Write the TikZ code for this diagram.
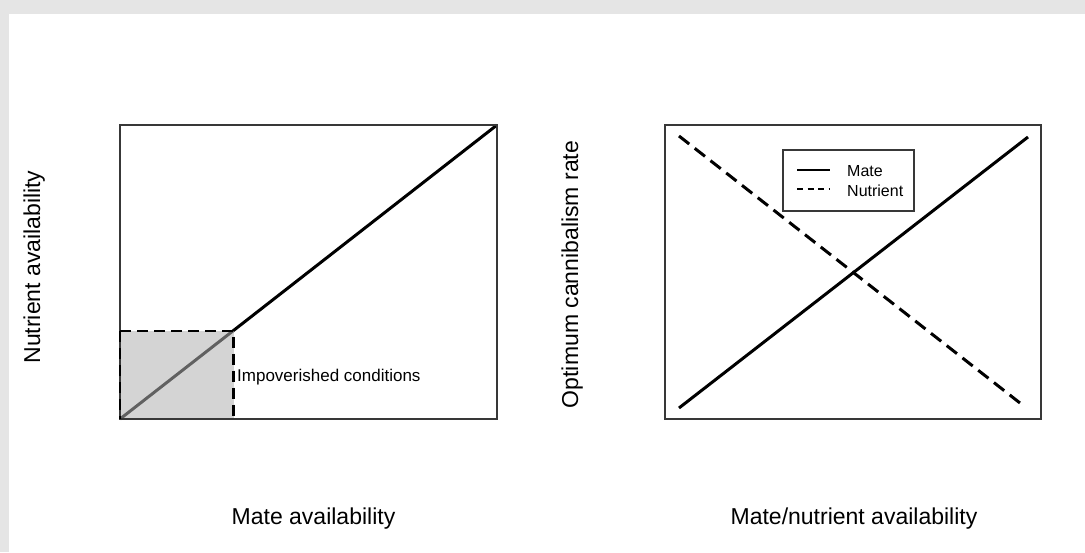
\documentclass[tikz,border=0pt]{standalone}
\usepackage{fontspec}
\setmainfont{Liberation Sans}
\begin{document}
\begin{tikzpicture}[x=1pt,y=-1pt,
  frame/.style={draw=black!78, line width=1.6pt},
  curve/.style={draw=black, line width=3pt},
  dcurve/.style={draw=black, line width=3pt, dash pattern=on 13pt off 7pt},
  rdash/.style={draw=black, line width=2.8pt, dash pattern=on 11pt off 6pt},
  axlab/.style={font=\fontsize{23}{26}\selectfont, inner sep=0pt},
  smlab/.style={font=\fontsize{17}{20}\selectfont, inner sep=0pt},
  leglab/.style={font=\fontsize{16}{19}\selectfont, inner sep=0pt}]
\useasboundingbox (0,0) rectangle (1085,552);
\fill[black!10] (0,0) rectangle (1085,552);
\fill[white] (9,14) rectangle (1085,552);
% left panel
\coordinate (L1) at (120,419);
\coordinate (L2) at (497,125);
\coordinate (R1) at (665,419);
\coordinate (R2) at (1041,125);
\draw[curve] (L1) -- (L2);
\fill[black!30, opacity=0.55] (120,419) rectangle (233.5,331);
\draw[frame] (L1) rectangle (L2);
\draw[rdash] (120,331) -- (233.5,331) -- (233.5,419);
\draw[rdash] (120,331) -- (120,419);
\node[smlab, anchor=base west] (imp) at (237,381.5) {Impoverished conditions};
\node[axlab, anchor=base] (xl) at (313.5,524) {Mate availability};
\node[axlab, anchor=base, rotate=90] (yl) at (40,267) {Nutrient availability};
% right panel
\coordinate (m1) at (679,408);
\coordinate (m2) at (1028,137);
\coordinate (n1) at (679,136);
\coordinate (n2) at (1020,403);
\draw[curve] (m1) -- (m2);
\draw[dcurve] (n1) -- (n2);
\draw[frame] (R1) rectangle (R2);
\draw[draw=black!78, line width=1.4pt, fill=white] (783,150) rectangle (914,211);
\coordinate (la) at (797,170);
\coordinate (lb) at (830,170);
\coordinate (lc) at (797,189);
\coordinate (ld) at (830,189);
\draw[line width=1.5pt] (la) -- (lb);
\draw[line width=1.5pt, dash pattern=on 6pt off 4.5pt] (lc) -- (ld);
\node[leglab, anchor=base west] (lm) at (847,176.7) {Mate};
\node[leglab, anchor=base west] (ln) at (847,196.7) {Nutrient};
\node[axlab, anchor=base] (xr) at (854,524) {Mate/nutrient availability};
\node[axlab, anchor=base, rotate=90] (yr) at (578,274.5) {Optimum cannibalism rate};
\end{tikzpicture}
\end{document}
